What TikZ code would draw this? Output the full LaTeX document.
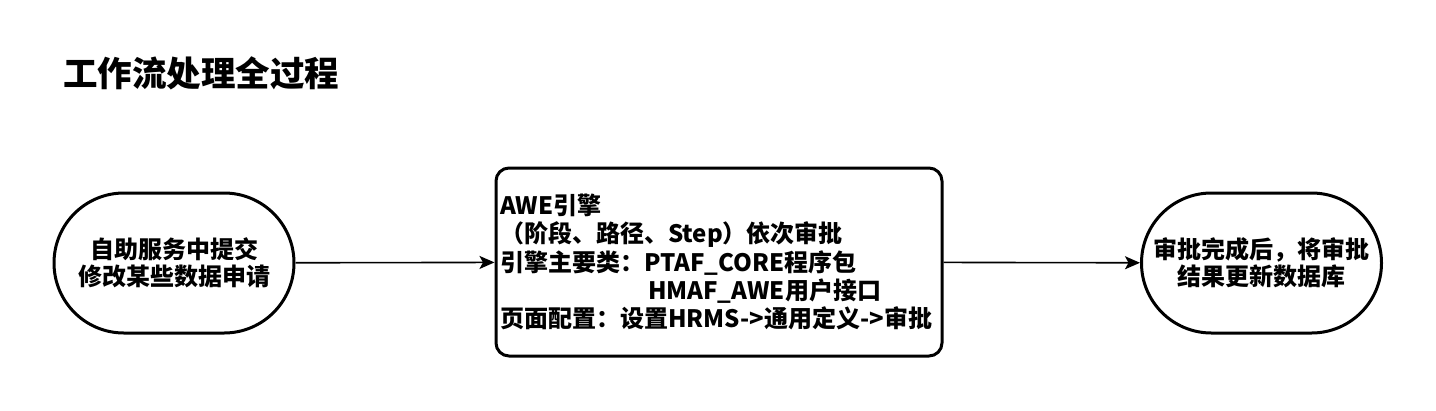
\documentclass[tikz,border=0pt]{standalone}
\usepackage{fontspec}
\setmainfont{Noto Sans CJK SC}
\usetikzlibrary{arrows.meta}
\begin{document}
\begin{tikzpicture}[x=1pt,y=-1pt,
  term/.style={draw,line width=3pt,rounded corners=69.9pt,minimum width=240pt,minimum height=140pt,inner sep=0pt,align=center,font=\fontsize{24pt}{27pt}\selectfont\bfseries},
  procbox/.style={draw,line width=3pt,rounded corners=13pt,minimum width=446pt,minimum height=188pt,text width=438pt,inner xsep=4pt,inner ysep=0pt,align=left,font=\fontsize{24pt}{28.4pt}\selectfont\bfseries},
  conn/.style={line width=1.6pt,-{Stealth[length=15pt,width=13pt,inset=3.5pt]}},
  titletext/.style={anchor=west,inner sep=0pt,font=\fontsize{34.5pt}{40pt}\selectfont\bfseries}
]
\useasboundingbox (0,0) rectangle (1436,410);
\node[titletext] (title) at (63,73) {工作流处理全过程};
\node[term] (start) at (174,263) {自助服务中提交\\修改某些数据申请};
\node[procbox] (engine) at (719,262) {AWE引擎\\（阶段、路径、Step）依次审批\\引擎主要类：PTAF\_CORE程序包\\\hspace*{148pt}HMAF\_AWE用户接口\\页面配置：设置HRMS->通用定义->审批};
\node[term] (finish) at (1261.5,263) {审批完成后，将审批\\结果更新数据库};
\draw[conn] (start) -- (engine);
\draw[conn] (engine) -- (finish);
\end{tikzpicture}
\end{document}
